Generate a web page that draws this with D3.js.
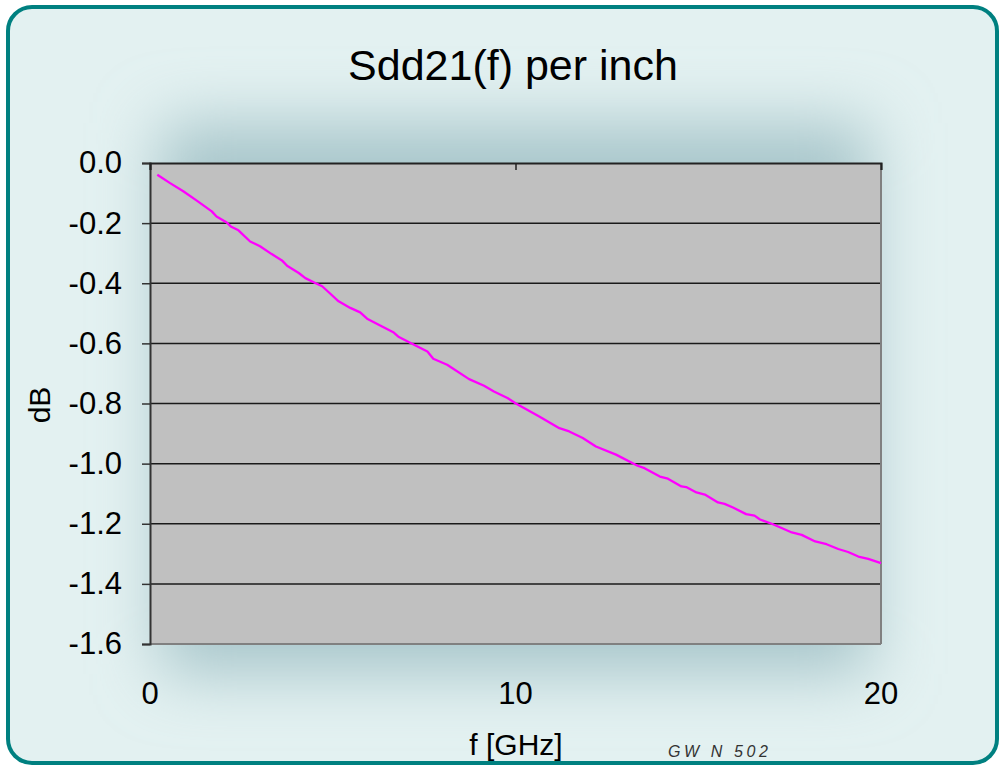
<!DOCTYPE html>
<html>
<head>
<meta charset="utf-8">
<script src="https://cdn.jsdelivr.net/npm/d3@7"></script>
<style>
  html, body { margin: 0; padding: 0; background: #ffffff; }
  svg { display: block; }
  text { font-family: "Liberation Sans", Arial, sans-serif; }
</style>
</head>
<body>
<script>
// ---- data ----
const freqGHz = [0.2, 0.55, 0.91, 1.28, 1.69, 1.82, 2.1, 2.21, 2.42, 2.74, 3.01, 3.33,
  3.61, 3.75, 4.07, 4.25, 4.52, 4.71, 4.89, 5.16, 5.48, 5.75, 5.94, 6.35, 6.67,
  6.81, 7.13, 7.59, 7.75, 8.13, 8.73, 9.14, 9.41, 9.78, 10.01,
  10.65, 11.2, 11.47, 11.84, 12.2, 12.75, 13.34,
  13.53, 13.95, 14.17, 14.54, 14.67, 14.95, 15.18, 15.54, 15.72, 15.95, 16.31, 16.54, 16.69,
  17.01, 17.28, 17.56, 17.83, 18.2, 18.51, 18.83, 19.1, 19.38, 19.65, 20.0];
const sdd21dB = [-0.039, -0.067, -0.094, -0.125, -0.161, -0.178, -0.198, -0.211, -0.224, -0.261, -0.277, -0.303,
  -0.324, -0.342, -0.366, -0.383, -0.399, -0.41, -0.43, -0.46, -0.482, -0.497, -0.518, -0.544, -0.564,
  -0.579, -0.599, -0.627, -0.651, -0.671, -0.719, -0.741, -0.76, -0.782, -0.8,
  -0.843, -0.882, -0.893, -0.915, -0.943, -0.97, -1.007,
  -1.015, -1.043, -1.05, -1.076, -1.078, -1.096, -1.103, -1.129, -1.134, -1.146, -1.168, -1.173, -1.186,
  -1.2, -1.214, -1.229, -1.237, -1.259, -1.268, -1.284, -1.294, -1.309, -1.317, -1.331];
const yTicks = [0.0, -0.2, -0.4, -0.6, -0.8, -1.0, -1.2, -1.4, -1.6];
const xTicks = [0, 10, 20];
const titleText = "Sdd21(f) per inch";
const xLabel = "f [GHz]";
const yLabel = "dB";
const footText = "GW N 502";

// ---- layout ----
const W = 999, H = 767;
const plot = { left: 150, top: 163, right: 881, bottom: 644 };

const svg = d3.select("body").append("svg").attr("width", W).attr("height", H);
const defs = svg.append("defs");
const blur = defs.append("filter").attr("id", "glow")
  .attr("x", "-30%").attr("y", "-40%").attr("width", "160%").attr("height", "180%");
blur.append("feGaussianBlur").attr("stdDeviation", 32);
defs.append("clipPath").attr("id", "frameClip")
  .append("rect").attr("x", 8).attr("y", 7).attr("width", 989).attr("height", 756).attr("rx", 24);

// frame background
svg.append("rect").attr("x", 8).attr("y", 7).attr("width", 989).attr("height", 756).attr("rx", 24)
  .attr("fill", "#e3f1f1");
// soft shadow / glow behind plot
svg.append("g").attr("clip-path", "url(#frameClip)")
  .append("rect")
  .attr("x", plot.left + 10).attr("y", plot.top - 40)
  .attr("width", plot.right - plot.left - 20).attr("height", plot.bottom - plot.top + 70)
  .attr("fill", "#a8c6cb").attr("filter", "url(#glow)");
// frame border
svg.append("rect").attr("x", 8).attr("y", 7).attr("width", 989).attr("height", 756).attr("rx", 24)
  .attr("fill", "none").attr("stroke", "#008080").attr("stroke-width", 4);

// scales
const x = d3.scaleLinear().domain([0, 20]).range([plot.left, plot.right]);
const y = d3.scaleLinear().domain([0, -1.6]).range([plot.top, plot.bottom]);

// plot area
svg.append("rect").attr("x", plot.left).attr("y", plot.top)
  .attr("width", plot.right - plot.left).attr("height", plot.bottom - plot.top)
  .attr("fill", "#c0c0c0");

// gridlines
svg.append("g").selectAll("line").data(yTicks.filter(d => d > -1.6 && d < 0)).join("line")
  .attr("x1", plot.left).attr("x2", plot.right)
  .attr("y1", d => y(d)).attr("y2", d => y(d))
  .attr("stroke", "#1a1a1a").attr("stroke-width", 1.5);

// right & bottom borders
svg.append("line").attr("x1", plot.right).attr("x2", plot.right).attr("y1", plot.top).attr("y2", plot.bottom)
  .attr("stroke", "#808080").attr("stroke-width", 2);
svg.append("line").attr("x1", plot.left).attr("x2", plot.right).attr("y1", plot.bottom).attr("y2", plot.bottom)
  .attr("stroke", "#808080").attr("stroke-width", 2);

// y axis
const yAxis = d3.axisLeft(y).tickValues(yTicks).tickSize(8).tickPadding(20)
  .tickFormat(d3.format(".1f"));
const gy = svg.append("g").attr("transform", `translate(${plot.left},0)`).call(yAxis);
gy.select(".domain").attr("stroke", "#333").attr("stroke-width", 2);
gy.selectAll(".tick line").attr("stroke", "#333").attr("stroke-width", 1.5);
gy.selectAll(".tick text").attr("font-size", 31).attr("fill", "#000")
  .attr("font-family", "Liberation Sans, Arial, sans-serif")
  .attr("x", -28)
  .text(d => d3.format(".1f")(d).replace("−", "-"));

// x axis line at y=0 (top) with ticks
const xAxis = d3.axisBottom(x).tickValues(xTicks).tickSize(7).tickFormat("");
const gx = svg.append("g").attr("transform", `translate(0,${y(0)})`).call(xAxis);
gx.select(".domain").attr("stroke", "#222").attr("stroke-width", 2);
gx.selectAll(".tick line").attr("stroke", "#222").attr("stroke-width", 1.5);

// x tick labels at bottom
svg.append("g").selectAll("text").data(xTicks).join("text")
  .attr("x", d => x(d)).attr("y", 704)
  .attr("text-anchor", "middle").attr("font-size", 31).attr("fill", "#000")
  .text(d => d);

// data line
const line = d3.line().x((d, i) => x(freqGHz[i])).y(d => y(d));
svg.append("path").datum(sdd21dB).attr("d", line)
  .attr("fill", "none").attr("stroke", "#ff00ff").attr("stroke-width", 2.3)
  .attr("stroke-linejoin", "round");

// title
svg.append("text").attr("x", 513).attr("y", 80).attr("text-anchor", "middle")
  .attr("font-size", 43).attr("fill", "#000").text(titleText);

// axis labels
svg.append("text").attr("x", 516).attr("y", 755).attr("text-anchor", "middle")
  .attr("font-size", 30).attr("fill", "#000").text(xLabel);
svg.append("text").attr("transform", "translate(50,405) rotate(-90)").attr("text-anchor", "middle")
  .attr("font-size", 30).attr("fill", "#000").text(yLabel);

// footnote
svg.append("text").attr("x", 668).attr("y", 757)
  .attr("font-family", "Liberation Mono, DejaVu Sans Mono, monospace")
  .attr("font-style", "italic").attr("font-size", 16).attr("letter-spacing", 3.6).attr("fill", "#333")
  .text(footText);
</script>
</body>
</html>
